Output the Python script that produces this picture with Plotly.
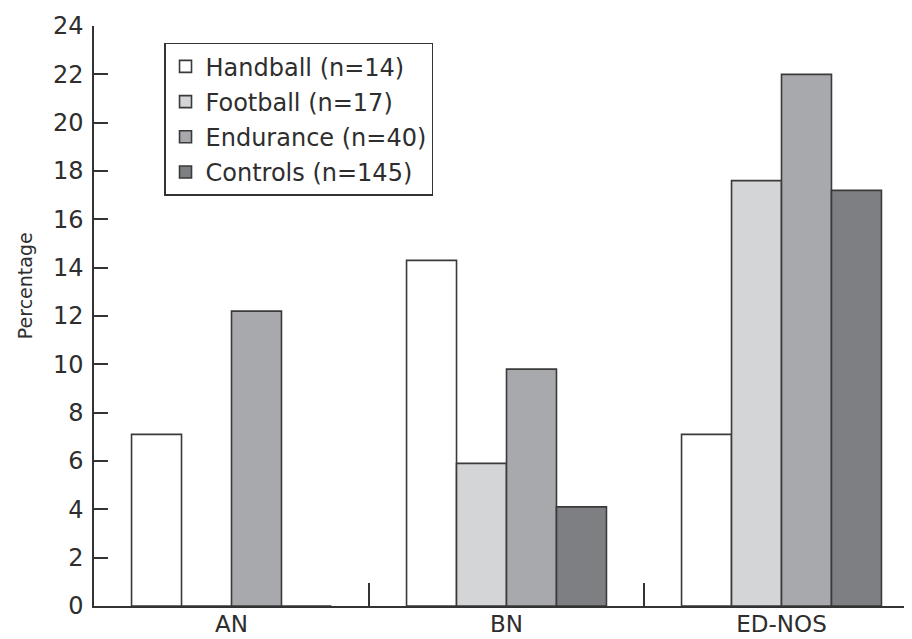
import plotly.graph_objects as go

categories = ["AN", "BN", "ED-NOS"]
series_names = ["Handball (n=14)", "Football (n=17)", "Endurance (n=40)", "Controls (n=145)"]
handball = [7.1, 14.3, 7.1]
football = [0.0, 5.9, 17.6]
endurance = [12.2, 9.8, 22.0]
controls = [0.0, 4.1, 17.2]
y_ticks = [0, 2, 4, 6, 8, 10, 12, 14, 16, 18, 20, 22, 24]

values = [handball, football, endurance, controls]
colors = ["#ffffff", "#d4d5d7", "#a8a9ad", "#7e7f82"]

FONT = "DejaVu Sans"
TXT = "#2e2e2e"
fig = go.Figure()
for i, (name, vals, col) in enumerate(zip(series_names, values, colors)):
    fig.add_trace(go.Bar(
        x=categories, y=vals, name=name, legendgroup=str(i),
        marker=dict(color=col, line=dict(color="#3a3a3a", width=1.6)),
    ))

# page body has an 8px margin, so the figure is drawn 8px right/down
fig.update_layout(
    width=904, height=631,
    margin=dict(l=86, r=0, t=18, b=33),
    paper_bgcolor="white", plot_bgcolor="white",
    barmode="group", bargap=0.273, bargroupgap=0,
    font=dict(family=FONT, color=TXT, size=21),
    showlegend=True,
    legend=dict(
        x=0.0856, y=0.971, xanchor="left", yanchor="top",
        bgcolor="white", bordercolor="#333333", borderwidth=1.5,
        font=dict(family=FONT, size=24, color=TXT),
        tracegroupgap=1, traceorder="grouped",
    ),
    annotations=[dict(
        text="Percentage", xref="paper", yref="paper",
        x=-0.0844, y=0.553, xanchor="center", yanchor="middle",
        textangle=-90, showarrow=False,
        font=dict(family=FONT, size=19, color=TXT),
    )],
)
fig.update_xaxes(
    range=[-0.5, -0.5 + 818/275], automargin=False,
    showline=True, linecolor="#333333", linewidth=1.5,
    ticks="inside", tickson="boundaries", ticklen=23, tickcolor="#333333", tickwidth=1.5,
    showgrid=False, zeroline=False, ticklabelstandoff=-3,
    tickfont=dict(family=FONT, size=23, color=TXT),
)
fig.update_yaxes(
    range=[0, 24], tickvals=y_ticks, automargin=False,
    showline=True, linecolor="#333333", linewidth=1.5,
    ticks="inside", ticklen=14, tickcolor="#333333", tickwidth=1.5,
    showgrid=False, zeroline=False, ticklabelstandoff=4,
    tickfont=dict(family=FONT, size=24, color=TXT),
)

fig.write_html("out.html")
